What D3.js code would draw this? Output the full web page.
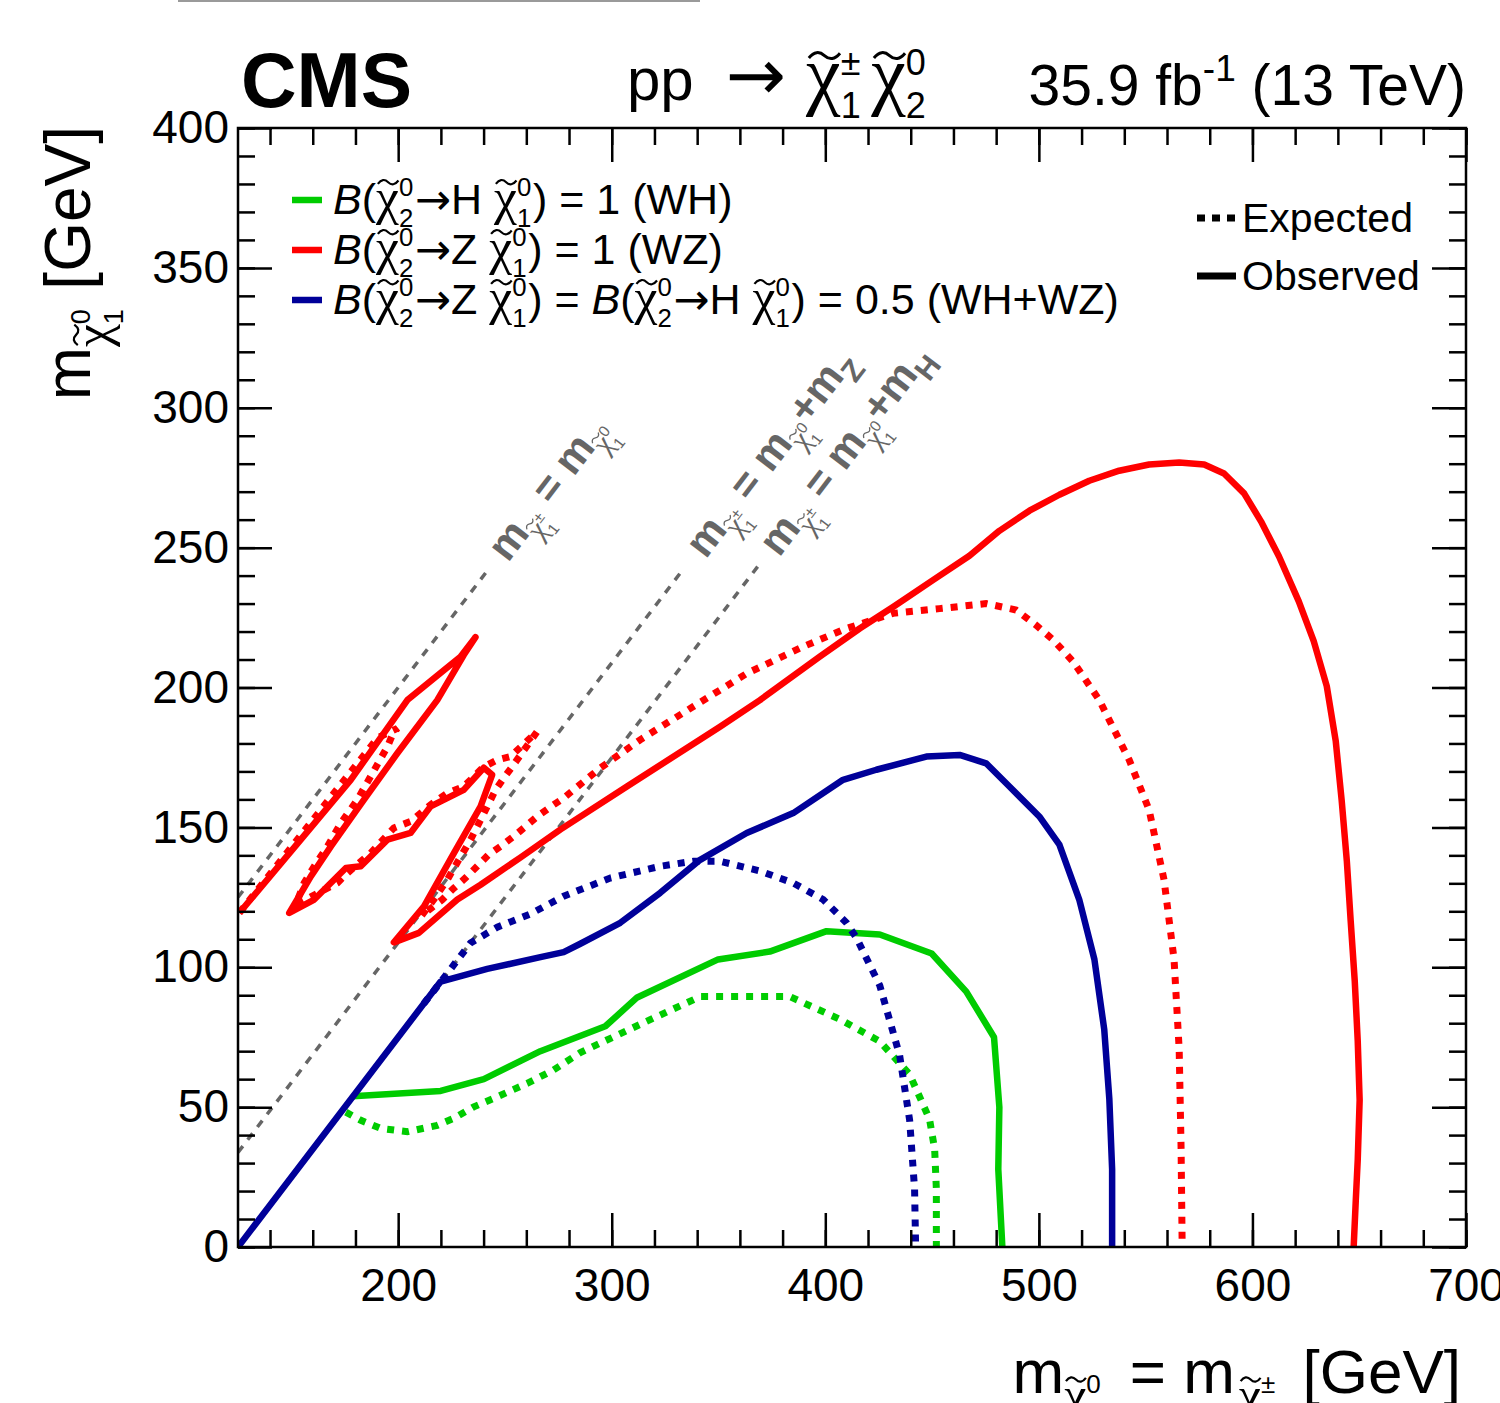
<!DOCTYPE html>
<html>
<head>
<meta charset="utf-8">
<script src="https://cdn.jsdelivr.net/npm/d3@7"></script>
<style>
  body { margin: 0; background: #fff; }
  text { white-space: pre; }
</style>
</head>
<body>
<svg id="chart" width="1500" height="1403"></svg>
<script>
// ---- data (GeV) ----
var xTicks = [200, 300, 400, 500, 600, 700];
var yTicks = [0, 50, 100, 150, 200, 250, 300, 350, 400];

// WH, B(chi2 -> H chi1) = 1
var whExp = [[175.5,48.2],[182.5,45.3],[191.8,42.4],[204.3,41.2],[218.3,43.5],[226.1,46],[235.4,50.1],
  [246.4,53.7],[260.4,58.5],[272.8,63.3],[285.3,69.5],[313.3,79.6],[341.4,89.5],[383.4,89.5],[406.8,81.4],
  [425.5,73.5],[439.5,61.7],[448.8,45.7],[451.2,35],[452,20.7],[452,0]];
var whObs = [[178.7,53.9],[219.9,55.8],[240.1,60],[266.6,70],[297,78.9],[311.9,89.2],[349.8,102.8],
  [374,105.6],[400.6,112.9],[425.5,111.7],[449.8,104.9],[466,91.3],[479,75],[481.5,50],[481,27.8],[482.9,0]];

// WZ, B(chi2 -> Z chi1) = 1
var wzExp = [[125.7,119.5],[190.4,182],[199.6,185.4],[197.3,183.1],[195,178.9],[187.1,168.2],[180.9,159.9],
  [173.1,151.5],[166.9,143.2],[160.7,136.1],[156,130.2],[152.1,122.4],[171.6,130.2],[176.3,133.7],
  [187.1,140.8],[198,149.8],[205.8,152.1],[215.2,158.1],[223,162.2],[230.7,164.6],[240.1,171.7],
  [246.4,174.1],[252.6,175.3],[265,184.2],[253.4,171.7],[249.4,167.6],[245.6,163.4],[238.6,152.7],
  [233.9,145.6],[228.4,138.4],[223,131.3],[216.7,124.2],[211,118.5],[220.7,124.2],[226.1,128.3],
  [231.5,131.9],[237,136.1],[242.4,140.3],[247.9,143.2],[254.1,146.8],[259.6,150.3],[265.1,153.9],
  [271.3,157.3],[277.5,160.5],[294.6,171.2],[313.3,181.3],[338.2,193.2],[363.2,205],[389.6,214.6],
  [409.9,221.1],[431.7,226.5],[453.5,228.2],[475.3,230],[489.3,227.7],[498.7,222.3],[506.9,216.9],
  [516.2,209.1],[528.3,195.5],[542.3,174.1],[551.6,156.3],[558.6,131.3],[563.3,102.8],[565.7,70.7],
  [566.6,35],[567.1,0]];
var wzObs = [[125.6,119.4],[154.4,145.6],[177.8,167],[204.3,195.5],[221.4,206.2],[229.2,211],[236.2,218],
  [230.7,211.6],[218.3,195.5],[199.6,176.5],[184,159.9],[168.5,143.2],[159.1,132.5],[149,119.4],
  [160.7,124.2],[175.5,135.5],[182.5,136.1],[195,145.6],[205.8,148],[215.2,157.5],[230.7,163.4],
  [240.1,171.3],[244,168.8],[238.6,157.5],[226.1,140.8],[212.1,121.8],[198,108.9],[209.7,112.3],
  [227.7,124.2],[238.6,129.5],[257.2,139.2],[275.9,149.2],[307.1,164.6],[350.7,186],[369.4,195.5],
  [397.4,211],[416.1,221.1],[431.7,228.8],[450.4,238.4],[467.5,247.1],[481.5,256],[495.6,263.2],
  [509.6,268.9],[523.6,273.9],[537.6,277.5],[551.6,279.7],[565.7,280.4],[577.4,279.7],[586.7,276.5],
  [596.1,269.4],[604,259.4],[612.4,246.9],[621.7,230.8],[628.7,216.6],[634.8,200.5],[639,180.9],
  [641.8,159.5],[644.2,138],[646,116.6],[647.9,95.2],[649.3,73.8],[650.2,52.5],[649.3,31.1],
  [648.4,16.8],[647.4,0]];

// WH+WZ, 0.5 / 0.5
var mixExp = [[212,87],[222.9,97.7],[233.9,108.7],[246.4,114.3],[262,119.1],[277.5,125.4],[299.3,131.9],
  [322.7,136.1],[338.2,137.9],[350.7,137.9],[369.4,134.4],[385,130.1],[399,124.2],[409.9,115.9],
  [414.6,110.5],[425.5,93.5],[434.8,68.5],[439.5,45.3],[441.8,20.7],[442.3,0]];
var mixObs = [[125,0],[219.9,94.9],[241.7,99.4],[266.6,103.6],[277.5,105.4],[285.3,108.4],[304,115.9],
  [322.7,126.6],[341.4,138.4],[363.2,148],[385,155.1],[408.3,167],[423.9,170.6],[447.3,175.3],
  [462.9,175.9],[475.3,172.9],[486.2,164.6],[500.2,153.9],[509.6,143.8],[518.9,124.2],[526,102.8],
  [530.6,77.8],[533,52.8],[534.3,27.8],[534.3,0]];

// kinematic limits m(chi1+-) = m(chi1 0) + dm
var kinDm = [0, 91.2, 125.1];
var kinEnd = [242, 334, 369];
var kinLabelStart = [247, 339.5, 374];
var kinSuffix = ["", "Z", "H"];

var colWH = "#00cc00", colWZ = "#ff0000", colMix = "#000099", colKin = "#666666";

// ---- layout ----
var svg = d3.select("#chart"),
    margin = {top: 128, right: 34, bottom: 156, left: 238},
    width = 1500 - margin.left - margin.right,
    height = 1403 - margin.top - margin.bottom,
    g = svg.append("g").attr("transform", "translate(" + margin.left + "," + margin.top + ")");

var sans = "'Liberation Sans', Arial, Helvetica, sans-serif";
var arrowFont = "'DejaVu Sans', sans-serif";
svg.attr("font-family", sans);

var x = d3.scaleLinear().domain([125, 700]).range([0, width]);
var y = d3.scaleLinear().domain([0, 400]).range([height, 0]);

svg.append("defs").append("clipPath").attr("id", "plotclip")
  .append("rect").attr("width", width).attr("height", height);

// thin grey line at the very top of the original picture
svg.append("line").attr("x1", 178).attr("x2", 700).attr("y1", 1).attr("y2", 1)
  .attr("stroke", "#9a9a9a").attr("stroke-width", 2);

// ---- little TLatex-like typesetter ----
function tildePath(x0, y0, w, a) {
  return "M" + x0 + "," + (y0 + a * 0.6) +
    " Q" + (x0 + w * 0.25) + "," + (y0 - a * 1.8) + " " + (x0 + w * 0.5) + "," + y0 +
    " Q" + (x0 + w * 0.75) + "," + (y0 + a * 1.8) + " " + (x0 + w) + "," + (y0 - a * 0.6);
}

function typeset(sel, parts, size, color) {
  var cx = 0;
  color = color || "#000";
  parts.forEach(function(p) {
    var s = size * (p.scale || 1), base = (p.dy || 0) * size;
    if (p.chi) {
      var big = p.big || 1.2;
      var t = sel.append("text").attr("x", cx).attr("y", base)
        .attr("font-family", "'Liberation Serif', 'Times New Roman', serif")
        .attr("font-size", s * big).attr("fill", color).text("\u03C7");
      var w = t.node().getComputedTextLength();
      sel.append("path").attr("d", tildePath(cx + w * 0.08, base - s * 0.74, w * 0.9, s * 0.065))
        .attr("fill", "none").attr("stroke", color).attr("stroke-width", Math.max(1, s * 0.05));
      var adv = 0, ss = s * 0.6;
      if (p.sup) {
        var a = sel.append("text").attr("x", cx + w).attr("y", base - s * 0.42)
          .attr("font-size", ss).attr("fill", color).text(p.sup);
        adv = Math.max(adv, a.node().getComputedTextLength());
      }
      if (p.sub) {
        var b = sel.append("text").attr("x", cx + w).attr("y", base + s * 0.3)
          .attr("font-size", ss).attr("fill", color).text(p.sub);
        adv = Math.max(adv, b.node().getComputedTextLength());
      }
      cx += w + adv + s * 0.04 + (p.gap || 0);
    } else {
      var tt = sel.append("text").attr("x", cx).attr("y", base)
        .attr("font-size", s).attr("fill", color)
        .attr("font-family", p.font || null)
        .attr("font-style", p.italic ? "italic" : null)
        .attr("font-weight", p.bold ? "bold" : null)
        .text(p.t);
      cx += tt.node().getComputedTextLength() + (p.gap || 0);
    }
  });
  return cx;
}

// ---- kinematic lines + labels ----
var ang = Math.atan2(y(0) - y(100), x(225) - x(125)) * 180 / Math.PI;
var kin = g.append("g").attr("clip-path", "url(#plotclip)");
kinDm.forEach(function(dm, i) {
  var x0 = Math.max(125, dm);
  kin.append("line")
    .attr("x1", x(x0)).attr("y1", y(x0 - dm))
    .attr("x2", x(kinEnd[i])).attr("y2", y(kinEnd[i] - dm))
    .attr("stroke", colKin).attr("stroke-width", 3.5).attr("stroke-dasharray", "8,8");
});
kinDm.forEach(function(dm, i) {
  var xs = kinLabelStart[i];
  var lab = g.append("g")
    .attr("transform", "translate(" + x(xs) + "," + y(xs - dm) + ") rotate(" + (-ang) + ") translate(0,12)");
  var parts = [
    {t: "m", bold: true},
    {chi: true, sup: "\u00B1", sub: "1", scale: 0.62, dy: 0.3, big: 1.15},
    {t: " = m", bold: true},
    {chi: true, sup: "0", sub: "1", scale: 0.62, dy: 0.3, big: 1.15}
  ];
  if (kinSuffix[i]) {
    parts.push({t: "+m", bold: true});
    parts.push({t: kinSuffix[i], bold: true, scale: 0.72, dy: 0.3});
  }
  typeset(lab, parts, 42, colKin);
});

// ---- contours ----
var line = d3.line().x(function(d) { return x(d[0]); }).y(function(d) { return y(d[1]); });
var curves = g.append("g").attr("clip-path", "url(#plotclip)").attr("fill", "none");

var series = [
  {d: whExp, c: colWH, dash: true}, {d: whObs, c: colWH},
  {d: wzExp, c: colWZ, dash: true}, {d: wzObs, c: colWZ},
  {d: mixExp, c: colMix, dash: true}, {d: mixObs, c: colMix}
];
series.forEach(function(s) {
  curves.append("path").attr("d", line(s.d))
    .attr("stroke", s.c).attr("stroke-width", s.dash ? 7 : 6.5)
    .attr("stroke-dasharray", s.dash ? "7,8" : null)
    .attr("stroke-linejoin", s.dash ? "miter" : "round");
});

// ---- axes ----
function minorTicks(lo, hi, step) { return d3.range(lo, hi + 0.001, step); }
var xMinor = minorTicks(140, 700, 20), yMinor = minorTicks(0, 400, 10);

function styleAxis(sel) {
  sel.select(".domain").remove();
  sel.selectAll("line").attr("stroke", "#000").attr("stroke-width", 2.5);
  sel.selectAll("text").attr("font-size", 46).attr("font-family", sans).attr("fill", "#000");
}

g.append("g").attr("transform", "translate(0," + height + ")")
  .call(d3.axisBottom(x).tickValues(xTicks).tickSize(-34).tickPadding(21)).call(styleAxis);
g.append("g").attr("transform", "translate(0," + height + ")")
  .call(d3.axisBottom(x).tickValues(xMinor).tickSize(-17).tickFormat("")).call(styleAxis);
g.append("g")
  .call(d3.axisTop(x).tickValues(xTicks).tickSize(-34).tickFormat("")).call(styleAxis);
g.append("g")
  .call(d3.axisTop(x).tickValues(xMinor).tickSize(-17).tickFormat("")).call(styleAxis);

g.append("g")
  .call(d3.axisLeft(y).tickValues(yTicks).tickSize(-34).tickPadding(9)).call(styleAxis);
g.append("g")
  .call(d3.axisLeft(y).tickValues(yMinor).tickSize(-17).tickFormat("")).call(styleAxis);
g.append("g").attr("transform", "translate(" + width + ",0)")
  .call(d3.axisRight(y).tickValues(yTicks).tickSize(-34).tickFormat("")).call(styleAxis);
g.append("g").attr("transform", "translate(" + width + ",0)")
  .call(d3.axisRight(y).tickValues(yMinor).tickSize(-17).tickFormat("")).call(styleAxis);

g.append("rect").attr("width", width).attr("height", height)
  .attr("fill", "none").attr("stroke", "#000").attr("stroke-width", 2.5);

// ---- axis titles ----
var xt = svg.append("g");
var xw = typeset(xt, [
  {t: "m"}, {chi: true, sup: "0", sub: "2", scale: 0.7, dy: 0.3, big: 1.15, gap: 10},
  {t: " = m", gap: 4}, {chi: true, sup: "\u00B1", sub: "1", scale: 0.7, dy: 0.3, big: 1.15, gap: 8},
  {t: " [GeV]"}
], 62);
xt.attr("transform", "translate(" + (margin.left + width - 5 - xw) + ",1393)");

var yt = svg.append("g").attr("transform", "translate(90," + (margin.top - 2) + ") rotate(-90)");
var yti = yt.append("g");
var yw = typeset(yti, [
  {t: "m"}, {chi: true, sup: "0", sub: "1", scale: 0.7, dy: 0.3, big: 1.15},
  {t: " [GeV]"}
], 64);
yti.attr("transform", "translate(" + (-yw) + ",0)");

// ---- header ----
svg.append("text").attr("x", 241).attr("y", 107).attr("font-size", 77).attr("font-weight", "bold").text("CMS");

var proc = svg.append("g").attr("transform", "translate(627,100)");
typeset(proc, [
  {t: "pp", gap: 32}, {t: "\u2192", font: arrowFont, scale: 1.2, gap: 20},
  {chi: true, sup: "\u00B1", sub: "1", big: 1.3, gap: 8}, {chi: true, sup: "0", sub: "2", big: 1.3}
], 60);

var lumi = svg.append("g");
var lw = typeset(lumi, [{t: "35.9 fb"}, {t: "-1", scale: 0.65, dy: -0.42}, {t: " (13 TeV)"}], 57);
lumi.attr("transform", "translate(" + (margin.left + width - lw) + ",105)");

// ---- legends ----
var arrow = {t: "\u2192", font: arrowFont};
var legRows = [
  {c: colWH, parts: [{t: "B", italic: true}, {t: "("}, {chi: true, sup: "0", sub: "2"}, arrow, {t: "H "},
    {chi: true, sup: "0", sub: "1"}, {t: ") = 1 (WH)"}]},
  {c: colWZ, parts: [{t: "B", italic: true}, {t: "("}, {chi: true, sup: "0", sub: "2"}, arrow, {t: "Z "},
    {chi: true, sup: "0", sub: "1"}, {t: ") = 1 (WZ)"}]},
  {c: colMix, parts: [{t: "B", italic: true}, {t: "("}, {chi: true, sup: "0", sub: "2"}, arrow, {t: "Z "},
    {chi: true, sup: "0", sub: "1"}, {t: ") = "}, {t: "B", italic: true}, {t: "("},
    {chi: true, sup: "0", sub: "2"}, arrow, {t: "H "}, {chi: true, sup: "0", sub: "1"}, {t: ") = 0.5 (WH+WZ)"}]}
];
legRows.forEach(function(r, i) {
  var cy = 200 + i * 50;
  svg.append("line").attr("x1", 292).attr("x2", 322).attr("y1", cy).attr("y2", cy)
    .attr("stroke", r.c).attr("stroke-width", 6.5);
  var tg = svg.append("g").attr("transform", "translate(333," + (cy + 14) + ")");
  typeset(tg, r.parts, 43);
});

var styleRows = [{label: "Expected", dash: true, cy: 218}, {label: "Observed", dash: false, cy: 276}];
styleRows.forEach(function(r) {
  svg.append("line").attr("x1", 1197).attr("x2", 1236).attr("y1", r.cy).attr("y2", r.cy)
    .attr("stroke", "#000").attr("stroke-width", 7)
    .attr("stroke-dasharray", r.dash ? "8,7" : null);
  svg.append("text").attr("x", 1242).attr("y", r.cy + 14).attr("font-size", 41).text(r.label);
});
</script>
</body>
</html>
